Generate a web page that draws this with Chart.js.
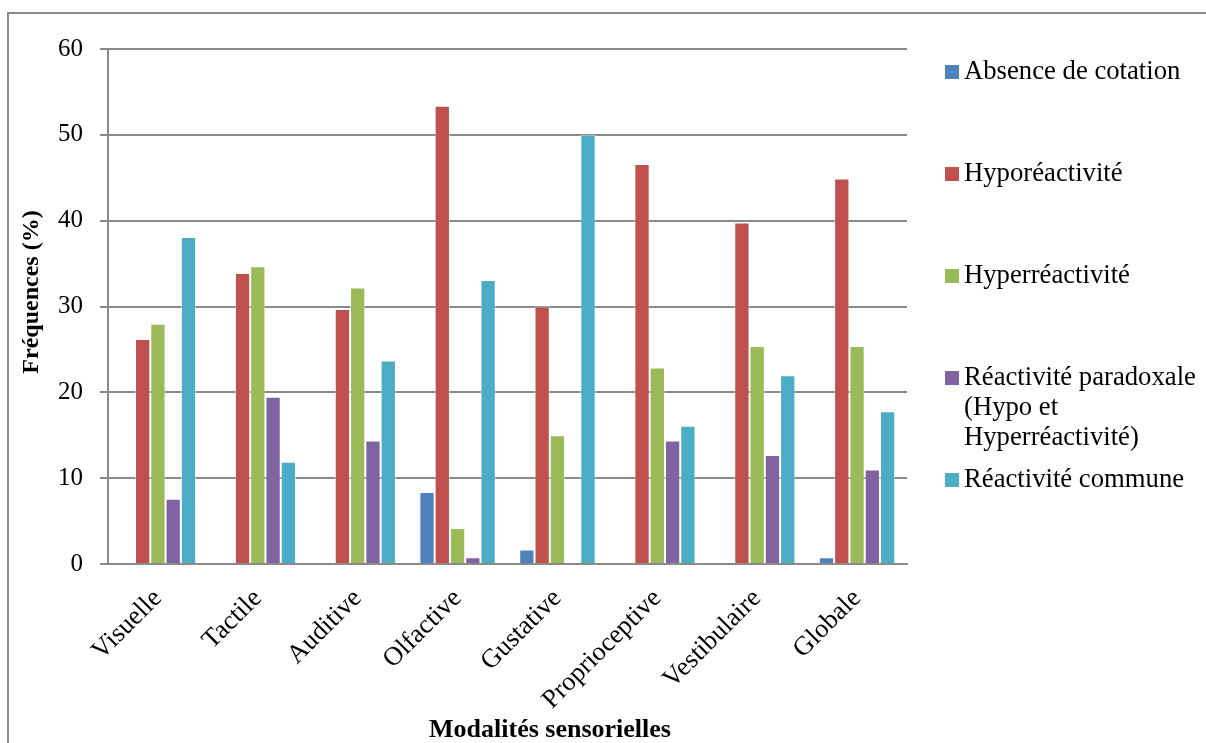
<!DOCTYPE html>
<html>
<head>
<meta charset="utf-8">
<script src="https://cdn.jsdelivr.net/npm/chart.js@4/dist/chart.umd.min.js"></script>
<style>
    html, body { margin: 0; padding: 0; background: #fff; }
    #wrap { position: relative; width: 1206px; height: 743px; overflow: hidden; }
    #frame { position: absolute; left: 7px; top: 12px; width: 1205px; height: 800px; border: 2px solid #8a8a8a; box-sizing: border-box; }
    canvas { position: absolute; left: 0; top: 0; }
</style>
</head>
<body>
<div id="wrap">
    <div id="frame"></div>
    <canvas id="chart" width="1206" height="743"></canvas>
</div>
<script>
const categories = ['Visuelle', 'Tactile', 'Auditive', 'Olfactive', 'Gustative', 'Proprioceptive', 'Vestibulaire', 'Globale'];
const seriesNames = ['Absence de cotation', 'Hyporéactivité', 'Hyperréactivité', 'Réactivité paradoxale (Hypo et Hyperréactivité)', 'Réactivité commune'];
const absence = [0, 0, 0, 8.4, 1.7, 0, 0, 0.8];
const hypo = [26.2, 33.9, 29.7, 53.4, 30.0, 46.6, 39.8, 44.9];
const hyper = [28.0, 34.7, 32.2, 4.2, 15.0, 22.9, 25.4, 25.4];
const paradoxale = [7.6, 19.5, 14.4, 0.8, 0, 14.4, 12.7, 11.0];
const commune = [38.1, 11.9, 23.7, 33.1, 50.0, 16.1, 22.0, 17.8];
const yTicks = [0, 10, 20, 30, 40, 50, 60];
const xTitle = 'Modalités sensorielles';
const yTitle = 'Fréquences (%)';

const colors = ['#4F81BD', '#C0504D', '#9BBB59', '#8064A2', '#4BACC6'];
const gridColor = '#8a8a8a';
const serif = '"Liberation Serif", "Times New Roman", serif';

// word-wrap a legend label to the free width on the right
function wrap(ctx, text, maxWidth) {
    const words = text.split(' ');
    const lines = [];
    let line = '';
    words.forEach(w => {
        const test = line ? line + ' ' + w : w;
        if (line && ctx.measureText(test).width > maxWidth) {
            lines.push(line);
            line = w;
        } else {
            line = test;
        }
    });
    if (line) lines.push(line);
    return lines;
}

const annotate = {
    id: 'annotate',
    afterDraw(chart) {
        const ctx = chart.ctx;
        const area = chart.chartArea;
        ctx.save();

        // legend on the right
        ctx.font = '26.7px ' + serif;
        ctx.textBaseline = 'middle';
        ctx.textAlign = 'left';
        const boxX = area.right + 38;
        const textX = area.right + 57;
        seriesNames.forEach((name, i) => {
            const y = area.top + 23 + i * 102;
            ctx.fillStyle = colors[i];
            ctx.fillRect(boxX, y - 7, 14, 14);
            ctx.fillStyle = '#000';
            wrap(ctx, name, 240).forEach((ln, j) => {
                ctx.fillText(ln, textX, y + j * 30);
            });
        });

        // axis titles
        ctx.font = 'bold 26px ' + serif;
        ctx.textAlign = 'center';
        ctx.fillText(xTitle, 550, 730);

        ctx.translate(32, 292);
        ctx.rotate(-Math.PI / 2);
        ctx.font = 'bold 24px ' + serif;
        ctx.fillText(yTitle, 0, 0);
        ctx.restore();
    }
};

const datasets = [absence, hypo, hyper, paradoxale, commune].map((values, i) => ({
    label: seriesNames[i],
    data: values,
    backgroundColor: colors[i],
    borderColor: 'rgba(255,255,255,0.55)',
    borderWidth: 1,
    categoryPercentage: 0.765,
    barPercentage: 1
}));

new Chart(document.getElementById('chart'), {
    type: 'bar',
    data: { labels: categories, datasets: datasets },
    plugins: [annotate],
    options: {
        responsive: false,
        animation: false,
        layout: { padding: { top: 49, right: 299, bottom: 0, left: 0 } },
        plugins: {
            legend: { display: false },
            tooltip: { enabled: false }
        },
        scales: {
            x: {
                grid: { display: false, drawTicks: false },
                border: { display: true, color: gridColor, width: 2 },
                ticks: {
                    color: '#000',
                    font: { family: serif, size: 26.5 },
                    minRotation: 45,
                    maxRotation: 45,
                    padding: 19
                },
                afterFit: scale => { scale.height = 179; }
            },
            y: {
                min: 0,
                max: 60,
                afterBuildTicks: scale => { scale.ticks = yTicks.map(v => ({ value: v })); },
                grid: { color: gridColor, lineWidth: 2, tickLength: 8 },
                border: { display: true, color: gridColor, width: 2 },
                ticks: {
                    color: '#000',
                    font: { family: serif, size: 25 },
                    padding: 17
                },
                afterFit: scale => { scale.width = 108; }
            }
        }
    }
});
</script>
</body>
</html>
